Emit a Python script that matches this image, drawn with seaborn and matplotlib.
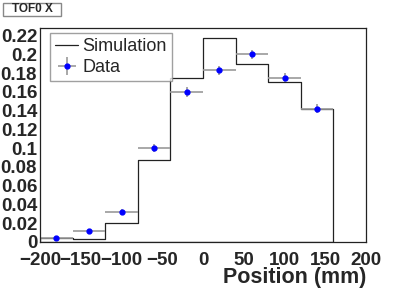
import matplotlib
matplotlib.use("Agg")
import matplotlib.pyplot as plt
import seaborn as sns
import numpy as np
from matplotlib.lines import Line2D
from matplotlib.patches import Rectangle
from matplotlib.ticker import MultipleLocator

# bins in mm
bin_edges = [-200, -160, -120, -80, -40, 0, 40, 80, 120, 160]
bin_centers = [-180, -140, -100, -60, -20, 20, 60, 100, 140]
sim_values = [0.004, 0.003, 0.020, 0.0875, 0.175, 0.217, 0.190, 0.171, 0.142]
data_values = [0.004, 0.0117, 0.032, 0.100, 0.160, 0.183, 0.200, 0.175, 0.142]
data_errors = [0.002, 0.002, 0.003, 0.004, 0.005, 0.005, 0.005, 0.005, 0.005]
y_labels = ['0', '0.02', '0.04', '0.06', '0.08', '0.1', '0.12', '0.14',
            '0.16', '0.18', '0.2', '0.22']

sns.set_style("white")
plt.rcParams['font.family'] = ['Liberation Sans', 'DejaVu Sans']

W, H = 407, 292
fig = plt.figure(figsize=(W / 100, H / 100), dpi=100)
ax = fig.add_axes([40 / W, 1 - 242 / H, 326 / W, 214 / H])

sns.histplot(x=bin_centers, weights=sim_values, bins=bin_edges, element='step',
             fill=True, color='#222222', linewidth=0.9, ax=ax)
ax.collections[-1].set_facecolor('none')
ax.collections[-1].set_edgecolor('#222222')

eb = ax.errorbar(bin_centers, data_values, xerr=20, yerr=data_errors, fmt='o',
                 color='blue', markersize=3.5, ecolor='#9a9a9a', elinewidth=1.2,
                 capsize=0)

ax.set_xlim(-200, 200)
ax.set_ylim(0, 0.228)
ax.set_ylabel('')
ax.set_xlabel('Position (mm)', fontsize=15.5, fontweight='bold', loc='right', labelpad=-1)

ax.xaxis.set_major_locator(MultipleLocator(50))
ax.xaxis.set_minor_locator(MultipleLocator(10))
ax.yaxis.set_minor_locator(MultipleLocator(0.005))
ax.set_yticks(np.arange(0, 0.23, 0.02))
ax.set_yticklabels(y_labels)
ax.tick_params(axis='both', which='major', direction='in', length=6, width=0.8,
               labelsize=13.5, pad=2, top=False, right=False, color='#333333')
ax.tick_params(axis='both', which='minor', direction='in', length=3, width=0.8,
               top=False, right=False, color='#333333')
ax.tick_params(axis='x', which='major', pad=7)
for lbl in ax.get_xticklabels() + ax.get_yticklabels():
    lbl.set_fontweight('bold')
for sp in ax.spines.values():
    sp.set_color('#222222')
    sp.set_linewidth(0.9)

sim_handle = Line2D([], [], color='#222222', linewidth=0.9)
leg = ax.legend([sim_handle, eb], ['Simulation', 'Data'], loc='upper left',
                bbox_to_anchor=(10 / 326, 1 - 5 / 214), fontsize=13, frameon=True,
                fancybox=False, borderpad=0.3, handlelength=1.25,
                handletextpad=0.25, labelspacing=0.2, borderaxespad=0)
leg.get_frame().set_edgecolor('#888888')
leg.get_frame().set_linewidth(1.0)

# title box, top left
fig.patches.append(Rectangle((3 / W, 1 - 16 / H), 58 / W, 13 / H, transform=fig.transFigure,
                             fc='white', ec='#888888', lw=1))
fig.text(32 / W, 1 - 9.5 / H, 'TOF0 X', fontsize=8.5, fontweight='bold',
         ha='center', va='center')

fig.savefig('out.png', dpi=100)
